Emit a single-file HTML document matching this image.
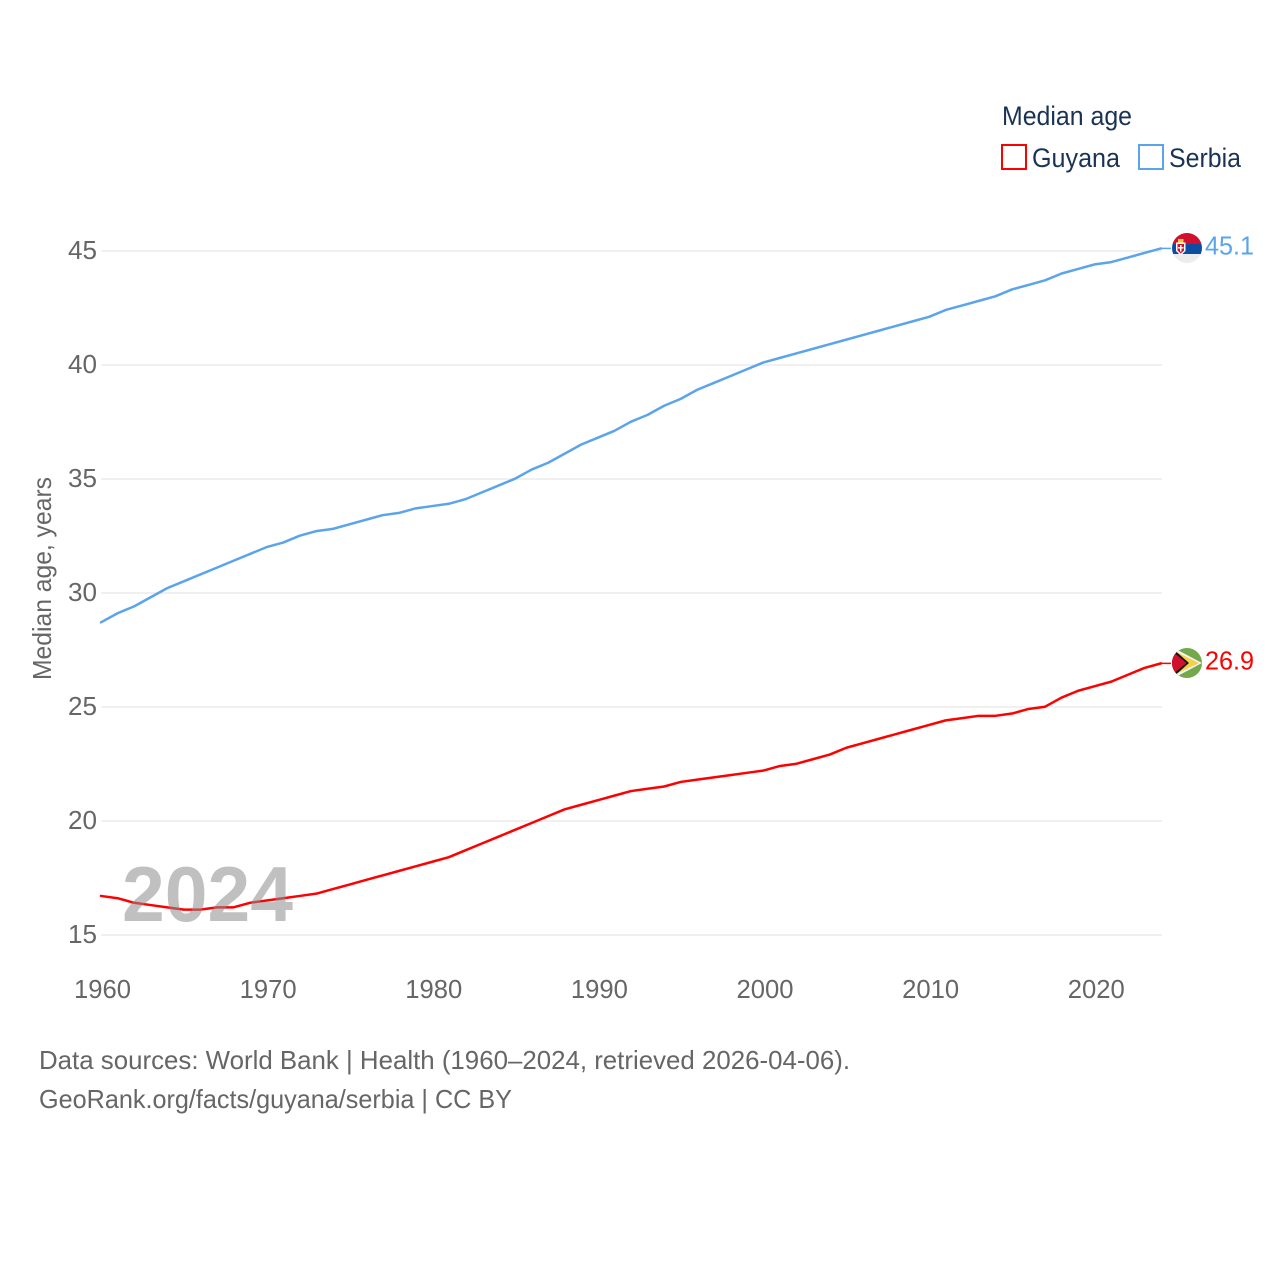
<!DOCTYPE html>
<html lang="en">
<head>
<meta charset="utf-8">
<title>Median age: Guyana and Serbia</title>
<style>
html,body{margin:0;padding:0;background:#fff;}
svg{display:block;}
text{font-family:"Liberation Sans",sans-serif;}
</style>
</head>
<body>
<svg id="chart" xmlns="http://www.w3.org/2000/svg" width="1280" height="1280" viewBox="0 0 1280 1280">
  <rect x="0" y="0" width="1280" height="1280" fill="#ffffff"></rect>
  <g id="grid"></g>
  <g id="yticks"></g>
  <g id="xticks"></g>
  <text transform="translate(51,680) rotate(-90)" font-size="26" fill="#666666" textLength="203" lengthAdjust="spacingAndGlyphs">Median age, years</text>

  <g id="series"></g>
  <text x="122" y="921" font-size="78" font-weight="700" fill="#8c8c8c" fill-opacity="0.55" textLength="171" lengthAdjust="spacingAndGlyphs">2024</text>

  <defs>
    <clipPath id="clip-serbia"><circle id="clip-serbia-circle" cx="1187" cy="248" r="15"></circle></clipPath>
    <clipPath id="clip-guyana"><circle id="clip-guyana-circle" cx="1187" cy="663" r="15"></circle></clipPath>
  </defs>

  <g clip-path="url(#clip-serbia)">
    <rect x="1172" y="233" width="30" height="11" fill="#d0102e"></rect>
    <rect x="1172" y="244" width="30" height="10" fill="#0c4da2"></rect>
    <rect x="1172" y="254" width="30" height="9" fill="#ececec"></rect>
    <path d="M1176 242.500h9.500v8.500l-4.750 4.500l-4.750-4.500z" fill="#ffffff"></path>
    <path d="M1177.500 244h6.500v6.500l-3.250 3l-3.250-3z" fill="#d0102e"></path>
    <path d="M1180 245h1.500v2h2v1.500h-2v3h-1.500v-3h-2v-1.500h2z" fill="#ffffff"></path>
    <rect x="1178" y="239" width="5.500" height="3.500" fill="#f5c53a"></rect>
  </g>

  <g clip-path="url(#clip-guyana)">
    <rect x="1172" y="648" width="30" height="30" fill="#74a84a"></rect>
    <path d="M1172 647L1202 663L1172 679z" fill="#f2f2f2"></path>
    <path d="M1172 650L1199 663L1172 676z" fill="#f7d046"></path>
    <path d="M1172 648L1189 663L1172 678z" fill="#111111"></path>
    <path d="M1172 651L1186.500 663L1172 675z" fill="#d0102e"></path>
  </g>

  <text x="1205" y="254.500" font-size="26" fill="#5ba4ec" textLength="49" lengthAdjust="spacingAndGlyphs">45.1</text>
  <text x="1205" y="669.500" font-size="26" fill="#ff0000" textLength="49" lengthAdjust="spacingAndGlyphs">26.9</text>

  <text x="1002" y="125" font-size="27" fill="#1a3355" textLength="130" lengthAdjust="spacingAndGlyphs">Median age</text>
  <g>
    <rect x="1002" y="145" width="24" height="24" fill="#ffffff" stroke="#ff0000" stroke-width="2"></rect>
    <text x="1032" y="167" font-size="27" fill="#1a3355" textLength="88" lengthAdjust="spacingAndGlyphs">Guyana</text>
  </g>
  <g>
    <rect x="1139" y="145" width="24" height="24" fill="#ffffff" stroke="#5ba4ec" stroke-width="2"></rect>
    <text x="1169" y="167" font-size="27" fill="#1a3355" textLength="72" lengthAdjust="spacingAndGlyphs">Serbia</text>
  </g>

  <text x="39" y="1069" font-size="26" fill="#666666" textLength="811" lengthAdjust="spacingAndGlyphs">Data sources: World Bank | Health (1960–2024, retrieved 2026-04-06).</text>
  <text x="39" y="1108" font-size="26" fill="#666666" textLength="473" lengthAdjust="spacingAndGlyphs">GeoRank.org/facts/guyana/serbia | CC BY</text>
</svg>
<script>
var startYear = 1960;
var yTickValues = [15, 20, 25, 30, 35, 40, 45];
var xTickValues = [1960, 1970, 1980, 1990, 2000, 2010, 2020];
var serbiaValues = [28.7,29.1,29.4,29.8,30.2,30.5,30.8,31.1,31.4,31.7,32.0,32.2,32.5,32.7,32.8,33.0,33.2,33.4,33.5,33.7,33.8,33.9,34.1,34.4,34.7,35.0,35.4,35.7,36.1,36.5,36.8,37.1,37.5,37.8,38.2,38.5,38.9,39.2,39.5,39.8,40.1,40.3,40.5,40.7,40.9,41.1,41.3,41.5,41.7,41.9,42.1,42.4,42.6,42.8,43.0,43.3,43.5,43.7,44.0,44.2,44.4,44.5,44.7,44.9,45.1];
var guyanaValues = [16.7,16.6,16.4,16.3,16.2,16.1,16.1,16.2,16.2,16.4,16.5,16.6,16.7,16.8,17.0,17.2,17.4,17.6,17.8,18.0,18.2,18.4,18.7,19.0,19.3,19.6,19.9,20.2,20.5,20.7,20.9,21.1,21.3,21.4,21.5,21.7,21.8,21.9,22.0,22.1,22.2,22.4,22.5,22.7,22.9,23.2,23.4,23.6,23.8,24.0,24.2,24.4,24.5,24.6,24.6,24.7,24.9,25.0,25.4,25.7,25.9,26.1,26.4,26.7,26.9];

var NS = 'http://www.w3.org/2000/svg';
function xScale(year) { return 101 + (year - 1960) * (1161 - 101) / 64; }
function yScale(value) { return 934.7 - (value - 15) * (934.7 - 250.7) / 30; }

function make(tag, parent, attrs, text) {
  var el = document.createElementNS(NS, tag);
  for (var k in attrs) { el.setAttribute(k, attrs[k]); }
  if (text !== undefined) { el.textContent = text; }
  parent.appendChild(el);
  return el;
}

var gridGroup = document.getElementById('grid');
var yGroup = document.getElementById('yticks');
var xGroup = document.getElementById('xticks');
var seriesGroup = document.getElementById('series');

yTickValues.forEach(function (v) {
  var line = make('line', gridGroup, { x1: 101, x2: 1162, y1: yScale(v) + 0.3, y2: yScale(v) + 0.3, stroke: '#ebebeb', 'stroke-width': 1.5 });
  
  
  var label = make('text', yGroup, { x: 97, y: yScale(v) + 8.3, 'text-anchor': 'end', 'font-size': 26, fill: '#666666', textLength: 29, lengthAdjust: 'spacingAndGlyphs' }, String(v));
  
  
});

xTickValues.forEach(function (y) {
  var label = make('text', xGroup, { x: xScale(y) - 27, y: 998, 'font-size': 26, fill: '#666666', textLength: 57, lengthAdjust: 'spacingAndGlyphs' }, String(y));
  
  
});

function drawSeries(values, color, key) {
  var pts = values.map(function (v, i) { return xScale(startYear + i).toFixed(2) + ',' + yScale(v).toFixed(2); });
  var path = make('polyline', seriesGroup, { points: pts.join(' '), fill: 'none', stroke: color, 'stroke-width': 2.5, 'stroke-linejoin': 'round', 'stroke-linecap': 'round' });
  
  
  var last = values[values.length - 1];
  var lastX = xScale(startYear + values.length - 1);
  var connector = make('line', seriesGroup, { x1: lastX, x2: lastX + 10, y1: yScale(last), y2: yScale(last), stroke: color, 'stroke-width': 1.5 });
  
  
}
drawSeries(serbiaValues, '#5ba4ec', 'serbia');
drawSeries(guyanaValues, '#ff0000', 'guyana');
</script>
</body>
</html>
